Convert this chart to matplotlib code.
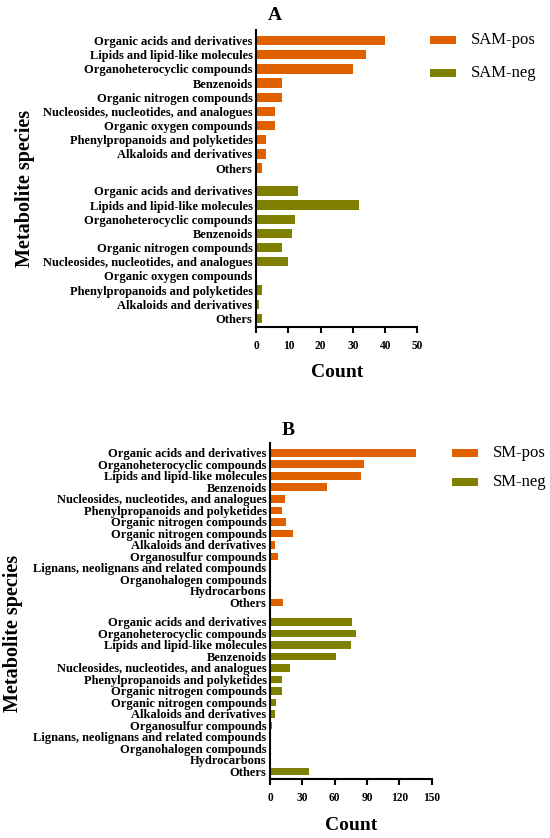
import matplotlib
matplotlib.use("Agg")
import matplotlib.pyplot as plt
import numpy as np
from matplotlib.patches import Rectangle

plt.rcParams['font.family'] = ['Liberation Serif', 'DejaVu Serif']

cats_A = ["Organic acids and derivatives", "Lipids and lipid-like molecules",
          "Organoheterocyclic compounds", "Benzenoids", "Organic nitrogen compounds",
          "Nucleosides, nucleotides, and analogues", "Organic oxygen compounds",
          "Phenylpropanoids and polyketides", "Alkaloids and derivatives", "Others"]
sam_pos = [40, 34, 30, 8, 8, 6, 6, 3, 3, 2]
sam_neg = [13, 32, 12, 11, 8, 10, 0, 2, 1, 2]

cats_B = ["Organic acids and derivatives", "Organoheterocyclic compounds",
          "Lipids and lipid-like molecules", "Benzenoids",
          "Nucleosides, nucleotides, and analogues", "Phenylpropanoids and polyketides",
          "Organic nitrogen compounds", "Organic nitrogen compounds",
          "Alkaloids and derivatives", "Organosulfur compounds",
          "Lignans, neolignans and related compounds", "Organohalogen compounds",
          "Hydrocarbons", "Others"]
sm_pos = [135, 87, 84, 53, 14, 11, 15, 21, 5, 7.5, 0, 0, 0, 12]
sm_neg = [76, 80, 75, 61, 19, 11, 11, 6, 4.5, 1.5, 0, 0, 0, 36]

xticks_A = [0, 10, 20, 30, 40, 50]
xticks_B = [0, 30, 60, 90, 120, 150]

ORANGE = "#E06000"
OLIVE = "#808000"

W, H = 550, 838
fig = plt.figure(figsize=(W / 100, H / 100), dpi=100)


def fx(px):
    return px / W


def fy(py):
    return 1 - py / H


def panel(box, cats, pos, neg, gap, top_pad, bot_pad, xticks, title, title_xy,
          labels, leg_xy, ylabel_xy):
    x0, y0, x1, y1 = box  # pixel coords: left, top, right, bottom
    ax = fig.add_axes([fx(x0), fy(y1), fx(x1 - x0), (y1 - y0) / H])
    n = len(cats)
    y_pos = np.arange(n)
    y_neg = np.arange(n) + (n - 1) + gap
    ax.barh(y_pos, pos, height=0.66, color=ORANGE)
    ax.barh(y_neg, neg, height=0.66, color=OLIVE)
    ax.set_ylim(y_neg[-1] + bot_pad, -top_pad)
    ax.set_xlim(0, xticks[-1])
    ax.set_yticks(list(y_pos) + list(y_neg))
    ax.set_yticklabels(cats + cats, fontsize=9.0, fontweight='bold')
    ax.set_xticks(xticks)
    ax.set_xticklabels([str(t) for t in xticks], fontsize=8.3, fontweight='bold')
    ax.tick_params(axis='y', length=0, pad=2.5)
    ax.tick_params(axis='x', length=4.5, width=1.5, pad=5)
    for s in ['top', 'right']:
        ax.spines[s].set_visible(False)
    for s in ['left', 'bottom']:
        ax.spines[s].set_linewidth(1.5)
    ax.set_xlabel("Count", fontsize=14, fontweight='bold', labelpad=9)
    fig.text(fx(title_xy[0]), fy(title_xy[1]), title, ha='center', va='center',
             fontsize=14, fontweight='bold')
    # legend
    lx, ly, dy = leg_xy
    for i, (lab, col) in enumerate(zip(labels, [ORANGE, OLIVE])):
        yc = ly + i * dy
        fig.patches.append(Rectangle((fx(lx), fy(yc + 4)), 26 / W, 8 / H,
                                     transform=fig.transFigure, facecolor=col,
                                     edgecolor='none'))
        fig.text(fx(lx + 41), fy(yc), lab, ha='left', va='center', fontsize=12)
    fig.text(fx(ylabel_xy[0]), fy(ylabel_xy[1]), "Metabolite species", rotation=90,
             ha='center', va='center', fontsize=14.5, fontweight='bold')
    return ax


axA = panel((256, 30, 417.5, 326.7), cats_A, sam_pos, sam_neg,
            1.61, 0.75, 0.59, xticks_A, "A", (275, 16), ["SAM-pos", "SAM-neg"],
            (430, 40, 33), (25, 188))
axB = panel((270, 443.3, 431.7, 779), cats_B, sm_pos, sm_neg,
            1.68, 0.82, 0.65, xticks_B, "B", (288.5, 430), ["SM-pos", "SM-neg"],
            (452, 452.7, 29), (13.3, 633))

fig.savefig("out.png", dpi=100)
